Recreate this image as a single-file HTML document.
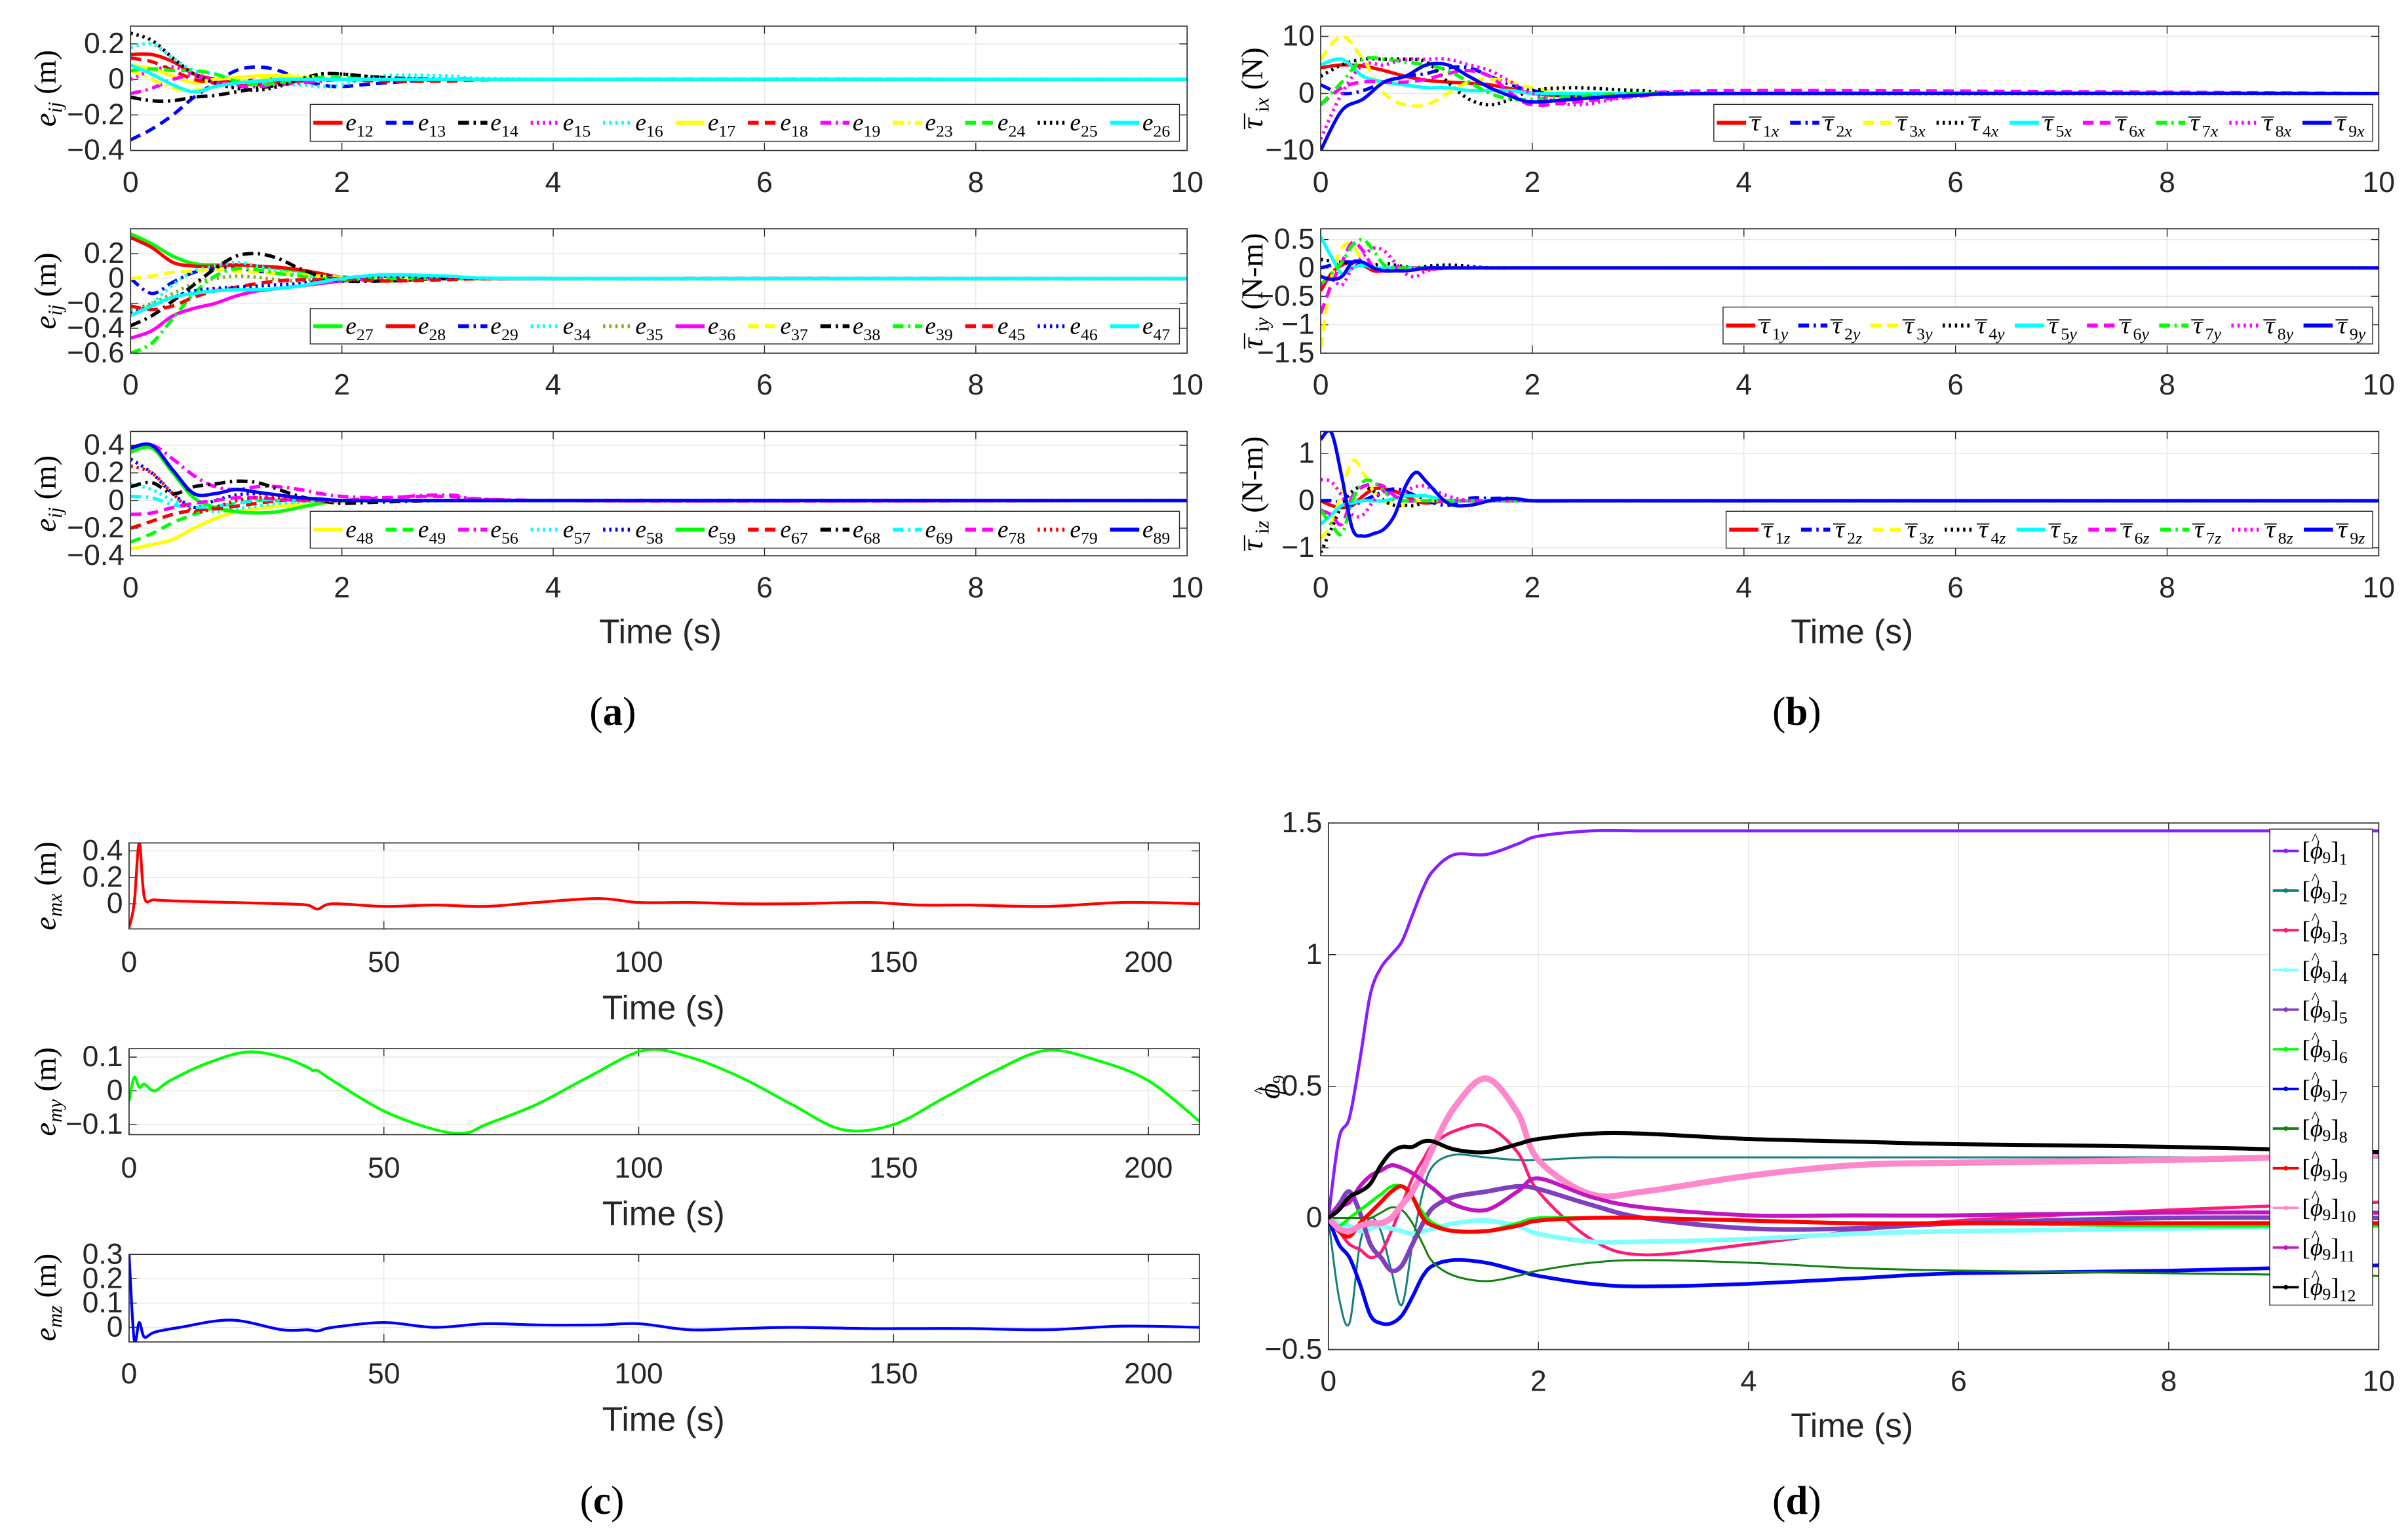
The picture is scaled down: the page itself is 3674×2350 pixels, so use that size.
<!DOCTYPE html>
<html><head><meta charset="utf-8"><style>
html,body{margin:0;padding:0;background:#fff;}
svg{display:block;}
text{font-family:"Liberation Sans",sans-serif;}
.serif{font-family:"Liberation Serif",serif;}
</style></head><body>
<svg id="fig" xmlns="http://www.w3.org/2000/svg" width="3674" height="2350" viewBox="0 0 1568 1003">
<rect x="0" y="0" width="1568" height="1003" fill="#fff"/>
<g id="root"></g>
<text x="399" y="472" text-anchor="middle" class="serif" font-size="26">(<tspan font-weight="bold">a</tspan>)</text>
<text x="1170" y="472" text-anchor="middle" class="serif" font-size="26">(<tspan font-weight="bold">b</tspan>)</text>
<text x="392" y="986" text-anchor="middle" class="serif" font-size="26">(<tspan font-weight="bold">c</tspan>)</text>
<text x="1170" y="986" text-anchor="middle" class="serif" font-size="26">(<tspan font-weight="bold">d</tspan>)</text>
</svg>
<script>
// ---------- DATA ----------
const tA = [0,0.2,0.4,0.6,0.8,1.0,1.2,1.4,1.6,1.8,2.0,2.4,3,4,10];
const tB = [0,0.1,0.2,0.3,0.4,0.5,0.6,0.7,0.8,0.9,1.0,1.2,1.4,1.6,1.8,2.0,2.4,3,4,10];
const xTicks10 = [0,2,4,6,8,10];

const a1Labels = ["12","13","14","15","16","17","18","19","23","24","25","26"];
const a1Values = [
[0.14,0.14,0.1,0.03,0.0,-0.02,-0.03,-0.02,-0.01,0,0,0,0,0,0],
[-0.34,-0.28,-0.2,-0.1,-0.02,0.05,0.07,0.05,0.0,-0.03,-0.04,-0.02,0,0,0],
[-0.1,-0.12,-0.12,-0.1,-0.09,-0.07,-0.05,-0.03,0.0,0.03,0.03,0.01,0,0,0],
[0.0,0.05,0.07,0.03,0.0,-0.03,-0.02,0,0.01,0,0,0,0,0,0],
[0.18,0.2,0.12,0.05,0.03,0.0,-0.02,-0.03,-0.03,-0.04,-0.03,0.02,0.02,0,0],
[0.08,0.06,0.02,-0.02,0,0.01,0.02,0.02,0.01,0,0,0,0,0,0],
[0.12,0.1,0.05,0.0,-0.02,-0.02,0,0,0,0,0,-0.01,-0.01,0,0],
[-0.08,-0.05,0.0,0.02,-0.02,-0.04,-0.04,-0.03,-0.02,-0.01,0,0,0,0,0],
[0.05,0.0,-0.05,-0.06,-0.04,-0.02,0,0.02,0.02,0.01,0,0,0,0,0],
[0.05,0.06,0.05,0.05,0.03,-0.01,-0.03,-0.02,0.0,0.01,0.01,0,0,0,0],
[0.26,0.22,0.12,0.03,-0.02,-0.05,-0.06,-0.04,0.0,0.03,0.03,0.01,0,0,0],
[0.08,0.03,-0.03,-0.07,-0.04,-0.02,-0.01,0,0,0,0,0,0,0,0]];
const a1Ticks = [-0.4,-0.2,0,0.2];

const a2Labels = ["27","28","29","34","35","36","37","38","39","45","46","47"];
const a2Values = [
[0.36,0.28,0.18,0.12,0.11,0.11,0.1,0.08,0.06,0.03,0.01,-0.02,0,0,0],
[0.33,0.25,0.13,0.1,0.1,0.11,0.1,0.09,0.07,0.04,0.01,-0.01,0,0,0],
[0,-0.12,-0.03,0.05,0.08,0.08,0.06,0.04,0.03,0.02,0.01,0,0,0,0],
[-0.3,-0.2,-0.05,0.06,0.1,0.13,0.1,0.06,0.03,0.01,0,0,0,0,0],
[-0.25,-0.2,-0.12,-0.04,0.0,0.02,0.01,-0.01,-0.02,0,0.01,0,0,0,0],
[-0.48,-0.42,-0.3,-0.24,-0.2,-0.14,-0.1,-0.08,-0.06,-0.04,-0.02,0,0,0,0],
[0,0.02,0.05,0.06,0.07,0.06,0.05,0.04,0.03,0.02,0.01,0,0,0,0],
[-0.38,-0.3,-0.18,-0.05,0.08,0.18,0.2,0.16,0.08,0.02,-0.02,-0.02,0,0,0],
[-0.6,-0.52,-0.32,-0.12,0.02,0.08,0.07,0.04,0.02,0,-0.01,0,0,0,0],
[-0.22,-0.25,-0.22,-0.15,-0.1,-0.07,-0.04,-0.02,-0.01,-0.01,0,-0.02,-0.01,0,0],
[-0.28,-0.22,-0.15,-0.1,-0.08,-0.07,-0.06,-0.05,-0.04,-0.02,0,0.02,0.01,0,0],
[-0.3,-0.22,-0.15,-0.12,-0.1,-0.09,-0.09,-0.08,-0.06,-0.03,0,0.03,0.02,0,0]];
const a2Ticks = [-0.6,-0.4,-0.2,0,0.2];

const a3Labels = ["48","49","56","57","58","59","67","68","69","78","79","89"];
const a3Values = [
[-0.35,-0.32,-0.28,-0.2,-0.13,-0.08,-0.06,-0.04,-0.03,-0.02,-0.01,0,0,0,0],
[-0.3,-0.24,-0.16,-0.1,-0.05,-0.02,0,0,0,0,0,0,0,0,0],
[0.35,0.4,0.3,0.18,0.1,0.08,0.1,0.1,0.08,0.05,0.03,0.02,0.04,0,0],
[0.12,0.08,0.0,-0.05,-0.08,-0.06,-0.04,-0.02,-0.01,0,0,0,0,0,0],
[0.3,0.2,0.05,-0.05,0.0,0.04,0.05,0.04,0.02,0.01,0,0,0,0,0],
[0.35,0.38,0.2,0.02,-0.05,-0.08,-0.09,-0.08,-0.05,-0.02,0,0,0,0,0],
[-0.2,-0.15,-0.1,-0.07,-0.06,-0.04,-0.02,0,0.01,0.01,0,0,0,0,0],
[0.1,0.13,0.05,0.1,0.12,0.14,0.13,0.08,0.03,0,-0.02,-0.01,0,0,0],
[0.03,0.02,-0.03,-0.05,-0.04,-0.02,0,0.01,0.01,0,0,0,0,0,0],
[-0.1,-0.09,-0.05,-0.02,0,0.02,0.02,0.01,0,0,0,0.02,0.03,0,0],
[0.25,0.2,0.05,-0.08,-0.05,0,0.02,0.02,0.01,0,0,0,0,0,0],
[0.38,0.4,0.22,0.05,0.05,0.08,0.06,0.04,0.02,0.01,0,0,0,0,0]];
const a3Ticks = [-0.4,-0.2,0,0.2,0.4];

const b1Values = [
[4.5,5,4.8,4,3,2.3,2,1.8,1.5,0.8,0,-0.5,-0.3,0,0],
[1.5,0,0.5,2,3,3.5,4.5,4.5,3,1.5,0.5,-0.5,-0.3,0,0],
[6,10,6,0,-2,-2,0,2,2.5,2,1,0,0,0,0],
[3,5,6,6,6,5.5,2,-1,-2,-1,0.5,1,0.5,0,0],
[5,6,3,2,1.5,1,1,0.5,0.5,0.5,0,0,0,0,0],
[-2,1,2,2,2,2.5,3.5,4,3,0,-2,-1.5,-0.5,0.5,0],
[-2,2,6,6,5.5,5,4,2,0,-1,-1,-0.5,0,0,0],
[-8,0,5,5,6,6,6,5,4,2,0,-2,-0.5,0,0],
[-10,-3,-1,2,3,5,5,3,1,-0.5,-1.5,-1,-0.3,0,0]];
const b1Ticks = [-10,0,10];

const b2Values = [
[-0.4,-0.1,0.05,0.1,0.05,-0.05,-0.05,0,0,0,-0.02,0,0,0,0,0,0,0,0,0],
[0,0.05,0.1,0.1,0.05,0,0,0,0,0,0,0,0,0,0,0,0,0,0,0],
[-1.4,-0.2,0.35,0.4,0.1,0,0,0,0,0,0,0,0,0,0,0,0,0,0,0],
[0.15,0.12,0.1,0.08,0.05,0.05,0.08,0.05,0.02,0,0.03,0.05,0.03,0,0,0,0,0,0,0],
[0.55,0.2,-0.1,0,0.05,0,0,0,0,0,0,0,0,0,0,0,0,0,0,0],
[-0.8,-0.3,0.1,0.45,0.3,0,-0.05,0,0,0,0,0,0,0,0,0,0,0,0,0],
[-0.3,-0.1,0.1,0.4,0.5,0.3,0.05,0,0,0,0,0,0,0,0,0,0,0,0,0],
[-0.3,-0.2,-0.3,0,0.2,0.35,0.3,0.1,-0.1,-0.15,-0.05,0,0,0,0,0,0,0,0,0],
[-0.15,-0.2,-0.15,0.1,0.1,0,-0.05,-0.05,-0.05,-0.03,0,0,0,0,0,0,0,0,0,0]];
const b2Ticks = [-1.5,-1,-0.5,0,0.5];

const b3Values = [
[0,-0.1,-0.15,-0.1,0.1,0.25,0.25,0.2,0.1,0,-0.05,0,0,0,0,0,0,0,0,0],
[0,0,-0.05,-0.1,0,0.1,0.2,0.25,0.2,0.1,0,-0.1,0.05,0.05,0.05,0,0,0,0,0],
[-0.8,-0.5,0.2,0.85,0.6,0.2,0,-0.1,-0.1,0,0,0,0,0,0,0,0,0,0,0],
[-1.1,-0.6,-0.1,0.2,0.3,0.2,0,-0.1,-0.1,-0.1,0,0,0,0,0,0,0,0,0,0],
[-0.5,-0.3,-0.1,-0.05,0,0,0,0.05,0.1,0.1,0.1,0,0,0,0,0,0,0,0,0],
[-0.2,-0.3,-0.5,0.1,0.3,0.35,0.3,0.1,0,0,0,0,0,0,0,0,0,0,0,0],
[-0.2,-0.5,-0.7,0,0.4,0.4,0.2,0,0,0,0,0,0,0,0,0,0,0,0,0],
[0.45,0.4,0.1,-0.3,-0.3,0,0.2,0.1,0.2,0.3,0.3,0.1,0,0,0,0,0,0,0,0],
[1.3,1.45,0.5,-0.6,-0.75,-0.7,-0.6,-0.3,0.3,0.6,0.4,-0.05,-0.1,0,0.05,0,0,0,0,0]];
const b3Ticks = [-1,0,1];

const tC = [0,1,2,3,5,10,20,30,35,37,40,50,60,70,80,92,100,110,120,130,145,155,165,180,195,210];
const emx = [-0.18,0.0,0.46,0.05,0.03,0.02,0.01,0,-0.01,-0.04,0,-0.02,-0.01,-0.02,0.01,0.04,0.01,0.01,0,0,0.01,-0.01,-0.01,-0.02,0.01,0];
const emz = [0.3,-0.05,0.02,-0.04,-0.02,0.0,0.03,-0.01,-0.01,-0.015,0.0,0.02,0.0,0.015,0.01,0.01,0.015,-0.01,-0.005,0,-0.005,-0.005,-0.005,-0.01,0.005,0];
const tCy = [0,1,2,3,5,8,15,23,30,35,36,37,40,50,60,66,70,80,90,101,110,120,130,140,150,160,170,180,190,200,210];
const emy = [-0.03,0.04,0.01,0.02,0.0,0.03,0.08,0.115,0.1,0.07,0.06,0.06,0.03,-0.06,-0.115,-0.125,-0.1,-0.04,0.04,0.12,0.1,0.04,-0.04,-0.115,-0.1,-0.02,0.06,0.12,0.09,0.03,-0.09];
const xTicksC = [0,50,100,150,200];

const tD = [0,0.1,0.2,0.3,0.4,0.5,0.6,0.7,0.8,0.9,1.0,1.2,1.5,1.8,2.0,2.5,3,4,5,6,8,10];
const dValues = [
[0,0.3,0.38,0.6,0.85,0.95,1.0,1.05,1.15,1.25,1.32,1.38,1.38,1.42,1.45,1.47,1.47,1.47,1.47,1.47,1.47,1.47],
[0,-0.3,-0.4,-0.1,0.0,-0.05,-0.2,-0.33,-0.1,0.1,0.2,0.24,0.23,0.22,0.22,0.23,0.23,0.23,0.23,0.23,0.23,0.23],
[0,-0.05,-0.1,-0.12,-0.15,-0.13,-0.05,0.05,0.15,0.22,0.28,0.33,0.35,0.25,0.1,-0.08,-0.14,-0.1,-0.05,-0.01,0.03,0.06],
[0,-0.02,-0.03,-0.05,-0.04,-0.03,-0.04,-0.05,-0.06,-0.05,-0.04,-0.02,-0.01,-0.03,-0.06,-0.09,-0.09,-0.08,-0.06,-0.05,-0.04,-0.03],
[0,0.05,0.1,0.02,-0.1,-0.15,-0.2,-0.18,-0.1,-0.02,0.04,0.08,0.1,0.12,0.11,0.05,0,-0.04,-0.04,-0.02,0,0],
[0,-0.03,0.0,0.03,0.06,0.09,0.12,0.12,0.08,0.02,-0.02,-0.05,-0.05,-0.02,0,0,0,-0.01,-0.02,-0.02,-0.03,-0.03],
[0,-0.1,-0.15,-0.25,-0.37,-0.4,-0.4,-0.37,-0.3,-0.22,-0.18,-0.16,-0.17,-0.2,-0.22,-0.25,-0.26,-0.25,-0.23,-0.21,-0.2,-0.18],
[0,0.0,0.0,0.0,0.0,0.02,0.04,0.03,-0.02,-0.1,-0.17,-0.22,-0.24,-0.22,-0.2,-0.17,-0.16,-0.17,-0.19,-0.2,-0.21,-0.22],
[0,-0.05,-0.07,-0.02,0.02,0.06,0.1,0.12,0.08,0.0,-0.03,-0.05,-0.05,-0.03,-0.01,0,0,-0.01,-0.02,-0.02,-0.02,-0.02],
[0,-0.04,-0.05,-0.03,-0.02,-0.02,0,0.05,0.1,0.18,0.27,0.42,0.53,0.4,0.22,0.09,0.1,0.16,0.2,0.21,0.22,0.24],
[0,0.04,0.06,0.12,0.16,0.18,0.2,0.19,0.17,0.14,0.11,0.05,0.03,0.1,0.15,0.08,0.04,0.01,0.01,0.01,0.02,0.02],
[0,0.03,0.08,0.1,0.13,0.2,0.25,0.27,0.27,0.29,0.29,0.26,0.25,0.28,0.3,0.32,0.32,0.3,0.29,0.28,0.27,0.25]];
const dTicks = [-0.5,0,0.5,1,1.5];
const dLabels = ["1","2","3","4","5","6","7","8","9","10","11","12"];

// ---------- STYLES ----------
const DASH={solid:"",dash:"7 4",dot:"1.5 2.5",dashdot:"7 3 1.5 3"};
const aStyles=[["#f00","solid"],["#00f","dash"],["#000","dashdot"],["#f0f","dot"],["#0ff","dot"],["#ff0","solid"],["#f00","dash"],["#f0f","dashdot"],["#ff0","dashdot"],["#0f0","dash"],["#000","dot"],["#0ff","solid"]];
const a2Styles=[["#0f0","solid"],["#f00","solid"],["#00f","dashdot"],["#0ff","dot"],["#8a2","dot"],["#f0f","solid"],["#ff0","dash"],["#000","dashdot"],["#0f0","dashdot"],["#f00","dash"],["#00f","dot"],["#0ff","solid"]];
const a3Styles=[["#ff0","solid"],["#0f0","dash"],["#f0f","dashdot"],["#0ff","dot"],["#00f","dot"],["#0f0","solid"],["#f00","dash"],["#000","dashdot"],["#0ff","dashdot"],["#f0f","dash"],["#f00","dot"],["#00f","solid"]];
const bStyles=[["#f00","solid"],["#00f","dashdot"],["#ff0","dash"],["#000","dot"],["#0ff","solid"],["#f0f","dash"],["#0f0","dashdot"],["#f0f","dot"],["#00f","solid"]];
const dColors=["#8a1cff","#138080","#ff1a75","#80ffff","#7f3fbf","#00ff00","#0000ff","#118011","#ff0000","#ff88cc","#c015c0","#000000"];
const dWidths=[2,1.3,2,3,3,2,2.4,1.3,2.6,4,2.6,2.6];

const NS="http://www.w3.org/2000/svg";
const root=document.getElementById("root");
function mk(tag,attrs,parent){const e=document.createElementNS(NS,tag);for(const k in attrs)e.setAttribute(k,attrs[k]);(parent||root).appendChild(e);return e;}
let clipN=0;

// tau with bar: bar placed just above, then subscript content (sub) with baseline reset
function tau(sub1,sub2,fs){
  return `<tspan font-style="italic">τ</tspan><tspan dx="-7" dy="3">¯</tspan><tspan font-size="${fs}" dx="1" dy="1">${sub1}</tspan><tspan font-size="${fs}" font-style="italic">${sub2}</tspan>`;
}
// phi with hat; returns content ending at subscript baseline (+3)
function phi(){
  return `<tspan font-style="italic">ϕ</tspan><tspan dx="-7.5" dy="-9" font-size="11">^</tspan><tspan font-size="11" dx="2" dy="12">9</tspan>`;
}

function smoothPath(pts){
  let d="M"+pts[0][0].toFixed(2)+","+pts[0][1].toFixed(2);
  for(let i=0;i<pts.length-1;i++){
    const p0=pts[i-1]||pts[i],p1=pts[i],p2=pts[i+1],p3=pts[i+2]||p2;
    const c1x=p1[0]+(p2[0]-p0[0])/6,c1y=p1[1]+(p2[1]-p0[1])/6;
    const c2x=p2[0]-(p3[0]-p1[0])/6,c2y=p2[1]-(p3[1]-p1[1])/6;
    d+=" C"+c1x.toFixed(2)+","+c1y.toFixed(2)+" "+c2x.toFixed(2)+","+c2y.toFixed(2)+" "+p2[0].toFixed(2)+","+p2[1].toFixed(2);
  }
  return d;
}

function axes(c){
  const g=mk("g",{});
  
  
  const sx=v=>c.x0+(v-c.xmin)/(c.xmax-c.xmin)*(c.x1-c.x0);
  const sy=v=>c.y1-(v-c.ymin)/(c.ymax-c.ymin)*(c.y1-c.y0);
  const bg=mk("rect",{x:c.x0,y:c.y0,width:c.x1-c.x0,height:c.y1-c.y0,fill:"#fff"},g);
  
  
  c.xticks.forEach(v=>{
    const x=sx(v);
    const gl=mk("line",{x1:x,x2:x,y1:c.y0,y2:c.y1,stroke:"#e6e6e6","stroke-width":0.6},g);
    
    
    const tk=mk("path",{d:`M${x},${c.y1}v-5M${x},${c.y0}v5`,stroke:"#262626","stroke-width":0.6,fill:"none"},g);
    
    
    const t=mk("text",{x:x,y:c.xlabY,"text-anchor":"middle","font-size":c.fs||19,fill:"#262626"},g);
    t.textContent=String(v);
    
    
  });
  c.yticks.forEach(v=>{
    const y=sy(v);
    const gl=mk("line",{x1:c.x0,x2:c.x1,y1:y,y2:y,stroke:"#e6e6e6","stroke-width":0.6},g);
    
    
    const tk=mk("path",{d:`M${c.x0},${y}h5M${c.x1},${y}h-5`,stroke:"#262626","stroke-width":0.6,fill:"none"},g);
    
    
    const t=mk("text",{x:c.x0-4,y:y+6,"text-anchor":"end","font-size":c.fs||19,fill:"#262626"},g);
    t.textContent=(v<0?"\u2212"+String(-v):String(v));
    
    
  });
  const id="clip"+(clipN++);
  const cp=mk("clipPath",{id:id},g);
  mk("rect",{x:c.x0,y:c.y0,width:c.x1-c.x0,height:c.y1-c.y0},cp);
  const lines=mk("g",{"clip-path":`url(#${id})`},g);
  
  
  c.series.forEach(s=>{
    const pts=s.t.map((tv,i)=>[sx(tv),sy(s.v[i])]);
    const p=mk("path",{d:smoothPath(pts),fill:"none",stroke:s.color,"stroke-width":s.w||2.2,"stroke-dasharray":DASH[s.dash]||"","stroke-linejoin":"round"},lines);
    
    
  });
  const fr=mk("rect",{x:c.x0,y:c.y0,width:c.x1-c.x0,height:c.y1-c.y0,fill:"none",stroke:"#262626","stroke-width":0.7},g);
  
  
  return {g,sx,sy};
}

function ylabel(x,y,html,name){
  const t=mk("text",{x:0,y:0,transform:`translate(${x},${y}) rotate(-90)`,"text-anchor":"middle","font-size":20,class:"serif"});
  t.innerHTML=html;
  
  
}
function xlabel(x,y,name){
  const t=mk("text",{x:x,y:y,"text-anchor":"middle","font-size":22,fill:"#262626"});
  t.textContent="Time (s)";
  
  
}

function hLegend(x0,y0,x1,y1,entries,styles,name){
  const g=mk("g",{});
  
  
  const r=mk("rect",{x:x0,y:y0,width:x1-x0,height:y1-y0,fill:"#fff",stroke:"#262626","stroke-width":0.6},g);
  
  
  const w=(x1-x0)/entries.length, cy=(y0+y1)/2;
  entries.forEach((e,i)=>{
    const lx=x0+2+i*w;
    const ln=mk("line",{x1:lx,x2:lx+19,y1:cy,y2:cy,stroke:styles[i][0],"stroke-width":2.6,"stroke-dasharray":DASH[styles[i][1]]||""},g);
    
    
    const t=mk("text",{x:lx+21,y:cy+5,"font-size":16,class:"serif"},g);
    t.innerHTML=e;
    
    
  });
}

// ---------- PANEL (a) ----------
function aPanel(y0,y1,ymin,ymax,ticks,vals,labels,styles,xlabY,legY0,legY1,nm){
  axes({name:nm,x0:85,x1:773,y0:y0,y1:y1,xmin:0,xmax:10,ymin:ymin,ymax:ymax,xticks:xTicks10,yticks:ticks,xlabY:xlabY,
    series:vals.map((v,i)=>({name:"series-e"+labels[i],t:tA,v:v,color:styles[i][0],dash:styles[i][1]}))});
  hLegend(202,legY0,768,legY1,labels.map(l=>`<tspan font-style="italic">e</tspan><tspan font-size="11" dy="4">${l}</tspan>`),styles,nm+"-legend");
  ylabel(36,(y0+y1)/2,`<tspan font-style="italic">e</tspan><tspan font-style="italic" font-size="13" dy="4">ij</tspan><tspan dy="-4"> (m)</tspan>`,nm+"-y-axis-title");
}
aPanel(17,98,-0.4,0.3,a1Ticks,a1Values,a1Labels,aStyles,125,68,92,"panel-a1");
aPanel(149,230,-0.6,0.4,a2Ticks,a2Values,a2Labels,a2Styles,257,201,224,"panel-a2");
aPanel(281,362,-0.4,0.5,a3Ticks,a3Values,a3Labels,a3Styles,389,333,357,"panel-a3");
xlabel(430,419,"x-axis-title-a");

// ---------- PANEL (b) ----------
function bPanel(y0,y1,ymin,ymax,ticks,tt,vals,axis,unit,xlabY,lx0,legY0,legY1,nm){
  axes({name:nm,x0:860,x1:1549,y0:y0,y1:y1,xmin:0,xmax:10,ymin:ymin,ymax:ymax,xticks:xTicks10,yticks:ticks,xlabY:xlabY,
    series:vals.map((v,i)=>({name:"series-tau"+(i+1)+axis,t:tt,v:v,color:bStyles[i][0],dash:bStyles[i][1]}))});
  hLegend(lx0,legY0,1545,legY1,vals.map((v,i)=>tau(String(i+1),axis,11)),bStyles,nm+"-legend");
  ylabel(822,(y0+y1)/2,`${tau("i",axis,13)}<tspan dy="-4"> (${unit})</tspan>`,nm+"-y-axis-title");
}
bPanel(17,98,-10,11.8,b1Ticks,tA,b1Values,"x","N",125,1116,68,92,"panel-b1");
bPanel(149,230,-1.5,0.69,b2Ticks,tB,b2Values,"y","N-m",257,1122,200,224,"panel-b2");
bPanel(281,362,-1.17,1.47,b3Ticks,tB,b3Values,"z","N-m",389,1124,333,357,"panel-b3");
xlabel(1206,419,"x-axis-title-b");

// ---------- PANEL (c) ----------
axes({name:"panel-c1",x0:84,x1:781,y0:549,y1:605,xmin:0,xmax:210,ymin:-0.19,ymax:0.46,xticks:xTicksC,yticks:[0,0.2,0.4],xlabY:633,
  series:[{name:"series-emx",t:tC,v:emx,color:"#f00",dash:"solid",w:1.8}]});
xlabel(432,664,"x-axis-title-c1");
ylabel(36,577,`<tspan font-style="italic">e</tspan><tspan font-style="italic" font-size="13" dy="4">mx</tspan><tspan dy="-4"> (m)</tspan>`,"panel-c1-y-axis-title");
axes({name:"panel-c2",x0:84,x1:781,y0:683,y1:739,xmin:0,xmax:210,ymin:-0.13,ymax:0.125,xticks:xTicksC,yticks:[-0.1,0,0.1],xlabY:767,
  series:[{name:"series-emy",t:tCy,v:emy,color:"#0f0",dash:"solid",w:1.8}]});
xlabel(432,798,"x-axis-title-c2");
ylabel(36,711,`<tspan font-style="italic">e</tspan><tspan font-style="italic" font-size="13" dy="4">my</tspan><tspan dy="-4"> (m)</tspan>`,"panel-c2-y-axis-title");
axes({name:"panel-c3",x0:84,x1:781,y0:817,y1:874,xmin:0,xmax:210,ymin:-0.06,ymax:0.3,xticks:xTicksC,yticks:[0,0.1,0.2,0.3],xlabY:901,
  series:[{name:"series-emz",t:tC,v:emz,color:"#00f",dash:"solid",w:1.8}]});
xlabel(432,932,"x-axis-title-c3");
ylabel(36,845,`<tspan font-style="italic">e</tspan><tspan font-style="italic" font-size="13" dy="4">mz</tspan><tspan dy="-4"> (m)</tspan>`,"panel-c3-y-axis-title");

// ---------- PANEL (d) ----------
axes({name:"panel-d",x0:865,x1:1549,y0:536,y1:879,xmin:0,xmax:10,ymin:-0.5,ymax:1.5,xticks:xTicks10,yticks:dTicks,xlabY:906,
  series:dValues.map((v,i)=>({name:"series-phi9-"+dLabels[i],t:tD,v:v,color:dColors[i],dash:"solid",w:dWidths[i]}))});
xlabel(1206,936,"x-axis-title-d");
ylabel(833,708,phi(),"panel-d-y-axis-title");
(function(){
  const g=mk("g",{});
  
  
  const r=mk("rect",{x:1478,y:540,width:67,height:310,fill:"#fff",stroke:"#262626","stroke-width":0.6},g);
  
  
  const h=310/12;
  dLabels.forEach((l,i)=>{
    const cy=540+h*(i+0.55);
    const ln=mk("line",{x1:1480,x2:1497,y1:cy,y2:cy,stroke:dColors[i],"stroke-width":1.6},g);
    
    
    const dot=mk("circle",{cx:1488.5,cy:cy,r:1.5,fill:dColors[i]},g);
    
    
    const t=mk("text",{x:1499,y:cy+5,"font-size":16,class:"serif"},g);
    t.innerHTML=`[${phi()}<tspan dy="-3">]</tspan><tspan font-size="11" dy="4">${l}</tspan>`;
    
    
  });
})();
</script>
</body></html>
